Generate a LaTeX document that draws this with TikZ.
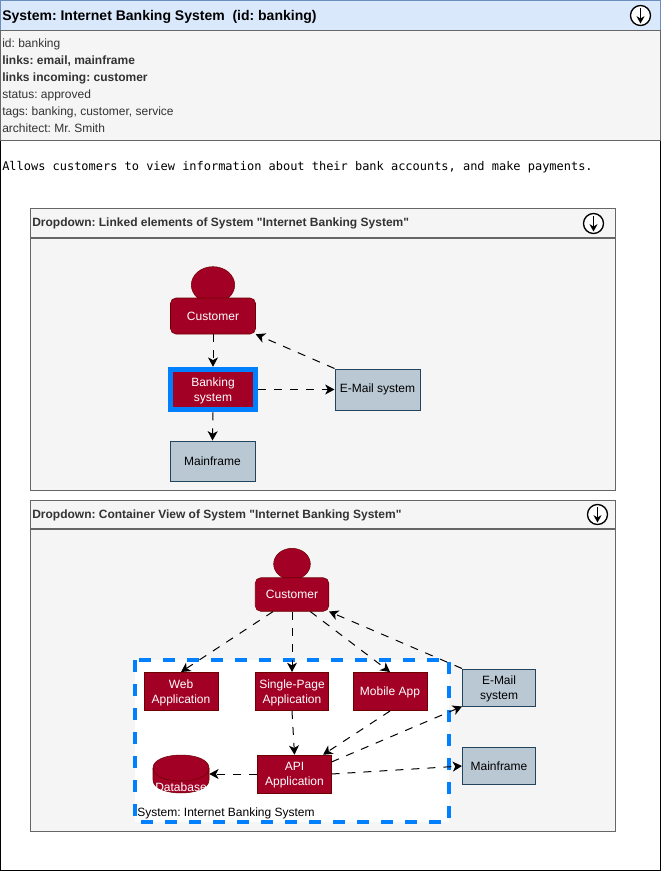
\documentclass[tikz,border=0pt]{standalone}
\usepackage{fontspec}
\setmainfont{Liberation Sans}
\setmonofont{DejaVu Sans Mono}
\newfontfamily\quotefont{Liberation Sans}
\usetikzlibrary{arrows.meta,shapes.geometric}
\frenchspacing

\definecolor{headblue}{HTML}{DAE8FC}
\definecolor{headline}{HTML}{6C8EBF}
\definecolor{panelgray}{HTML}{F5F5F5}
\definecolor{panelline}{HTML}{666666}
\definecolor{boxred}{HTML}{A20025}
\definecolor{boxredline}{HTML}{6F0000}
\definecolor{boxgray}{HTML}{BAC8D3}
\definecolor{boxgrayline}{HTML}{23445D}
\definecolor{framblue}{HTML}{007FFF}

\tikzset{
  sized/.style 2 args={minimum width=#1*0.75pt, minimum height=#2*0.75pt, inner sep=0pt, align=center},
  txt/.style={font=\fontsize{9}{11.25}\selectfont},
  lowtext/.style={text depth=0pt},
  redbox/.style={draw=boxredline, line width=0.4pt, fill=boxred, text=white, txt},
  graybox/.style={draw=boxgrayline, line width=0.75pt, fill=boxgray, text=black, txt},
  head/.style={ellipse, draw=boxredline, line width=0.4pt, fill=boxred, inner sep=0pt},
  link/.style={line width=0.75pt, dash pattern=on 6pt off 6pt, -{Stealth[length=7pt, width=7.5pt, inset=2pt]}},
  panel/.style={draw=panelline, line width=0.75pt, fill=panelgray},
  btn/.style={circle, draw=black, line width=1pt, fill=white, inner sep=0pt, minimum size=15pt},
  btnarrow/.style={line width=1pt, shorten >=2pt, shorten <=2.5pt, -{Stealth[length=5.5pt, width=6pt]}},
  title/.style={anchor=base west, inner sep=0pt, text=black!80, font=\quotefont\bfseries\fontsize{9}{11}\selectfont}
}

\begin{document}
\begin{tikzpicture}[x=0.75pt, y=-0.75pt]
  \useasboundingbox (0,0) rectangle (661,872);

  % outer page
  \draw[draw=black, line width=0.75pt, fill=white] (0.5,0.5) rectangle (660.5,870.5);
  \draw[draw=headline, line width=0.75pt, fill=headblue] (0.5,0.5) rectangle (660.5,30.5);
  \draw[panel] (0.5,30.5) rectangle (660.5,140.5);
  \node[title, text=black, font=\bfseries\fontsize{10.5}{12}\selectfont] (mainTitle) at (2,20) {System: Internet Banking System\ \ (id: banking)};
  \node[btn] (btnMain) at (640.5,15.5) {};
  \draw[btnarrow] (btnMain.north) -- (btnMain.south);

  \node[anchor=north west, inner sep=0pt, align=left, text=black!80, font=\fontsize{9}{12.65}\selectfont] (props) at (2,39) {id: banking\\
    \textbf{links: email, mainframe}\\
    \textbf{links incoming: customer}\\
    status: approved\\
    tags: banking, customer, service\\
    architect: Mr. Smith};
  \node[anchor=base west, inner sep=0pt, font=\ttfamily\fontsize{8.97}{11}\selectfont] (descr) at (2,170) {Allows customers to view information about their bank accounts, and make payments.};

  % first dropdown
  \draw[panel] (30.5,208.5) rectangle (615.5,237.5);
  \draw[panel] (30.5,238.5) rectangle (615.5,490.5);
  \node[title] (linkedTitle) at (32,226) {Dropdown: Linked elements of System "Internet Banking System"};
  \node[btn] (btnLinked) at (593.5,223.5) {};
  \draw[btnarrow] (btnLinked.north) -- (btnLinked.south);

  \node[head, minimum width=32.5pt, minimum height=27.5pt] (customerHead) at (213,285) {};
  \node[redbox, sized={85}{36}, rounded corners=4pt] (customer) at (213,316) {Customer};
  \node[sized={90}{45}, fill=framblue] (bankingFrame) at (213,389.5) {};
  \node[redbox, lowtext, sized={80}{35}, draw=none] (banking) at (213,389.5) {Banking\\system};
  \node[graybox, sized={85}{41}] (email) at (377.5,389.5) {E-Mail system};
  \node[graybox, sized={85}{40}] (mainframe) at (212.5,461) {Mainframe};

  \draw[link] (customer.south) -- (bankingFrame.north);
  \draw[link] (bankingFrame.east) -- (email.west);
  \draw[link] (bankingFrame.south) -- (mainframe.north);
  \draw[link] (email.north west) -- (customer.south east);

  % second dropdown
  \draw[panel] (30.5,500.5) rectangle (615.5,528.5);
  \draw[panel] (30.5,529.5) rectangle (615.5,831.5);
  \node[title] (containerTitle) at (32,518) {Dropdown: Container View of System "Internet Banking System"};
  \node[btn] (btnContainer) at (597.5,514.5) {};
  \draw[btnarrow] (btnContainer.north) -- (btnContainer.south);

  \draw[draw=framblue, line width=3pt, dash pattern=on 9pt off 9pt, fill=white] (135,660) rectangle (449,822);
  \node[anchor=base west, inner sep=0pt, txt] (frameLabel) at (137,816) {System: Internet Banking System};

  \node[head, minimum width=27.5pt, minimum height=23.5pt] (userHead) at (292,564) {};
  \node[redbox, sized={73.5}{33.5}, rounded corners=4pt] (user) at (292,594.5) {Customer};
  \node[redbox, lowtext, sized={74}{38.5}] (webApp) at (181,691.5) {Web\\Application};
  \node[redbox, lowtext, sized={73.5}{38.5}] (spaApp) at (292,691.5) {Single-Page\\Application};
  \node[redbox, lowtext, sized={74}{38.5}] (mobileApp) at (390,691.5) {Mobile App};
  \node[redbox, lowtext, sized={73.5}{38}] (apiApp) at (294.5,774) {API\\Application};

  % database drum
  \draw[draw=boxredline, line width=0.4pt, fill=boxred] (153,768) -- (153,780) .. controls (153,797.3) and (209,797.3) .. (209,780) -- (209,768) .. controls (209,750.7) and (153,750.7) .. (153,768) -- cycle;
  \draw[draw=boxredline, line width=0.4pt] (153,768) .. controls (153,785.3) and (209,785.3) .. (209,768);
  \node[sized={56}{38}] (database) at (181,774) {};
  \node[inner sep=0pt, text=white, txt] (databaseText) at (181,787) {Database};

  \node[graybox, lowtext, sized={73}{37}] (mailSys) at (499,687.5) {E-Mail\\system};
  \node[graybox, sized={73}{37.5}] (mainSys) at (499,766) {Mainframe};

  \draw[link] (user.-138) -- (webApp.north);
  \draw[link] (user.south) -- (spaApp.north);
  \draw[link] (user.-43) -- (mobileApp.north);
  \draw[link] (mailSys.north west) -- (user.south east);
  \draw[link] (spaApp.south) -- (apiApp.north);
  \draw[link] (mobileApp.south) -- (apiApp.34);
  \draw[link] (apiApp.18) -- (mailSys.south west);
  \draw[link] (apiApp.east) -- (mainSys.west);
  \draw[link] (apiApp.west) -- (database.east);
\end{tikzpicture}
\end{document}
